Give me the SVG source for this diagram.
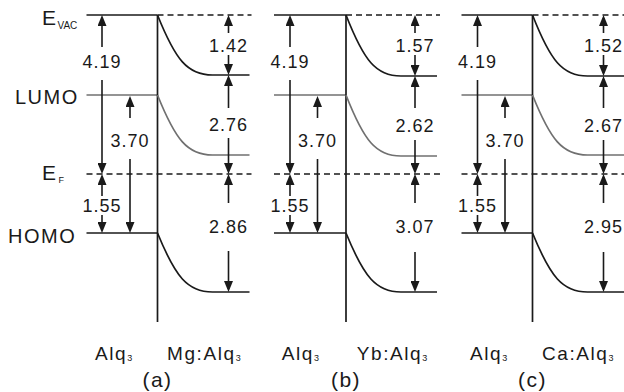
<svg xmlns="http://www.w3.org/2000/svg" width="624" height="392" viewBox="0 0 624 392">
<defs>
<marker id="ah" viewBox="0 0 11 9" refX="8" refY="4.5" markerWidth="11" markerHeight="9" markerUnits="userSpaceOnUse" orient="auto">
<path d="M0,0 L11,4.5 L0,9 z" fill="#1a1a1a"/>
</marker>
<style>
.k{stroke:#1a1a1a;stroke-width:1.7;fill:none}
.g{stroke:#707070;stroke-width:1.7;fill:none}
.d{stroke-dasharray:6 4}
.ar{stroke:#1a1a1a;stroke-width:1.6;fill:none;marker-end:url(#ah)}
text{font-family:"Liberation Sans",Arial,sans-serif;fill:#1a1a1a}
.num{font-size:18px;letter-spacing:1px;text-anchor:middle}
.lvl{font-size:20px;letter-spacing:1.5px}
.mat{font-size:19px;letter-spacing:1.6px}
.cap{font-size:21px;letter-spacing:1.5px;text-anchor:middle}
.sub{font-size:9px;letter-spacing:0}
</style>
</defs>

<g id="level-labels">
<text class="lvl" x="42" y="25" style="font-size:21px">E<tspan class="sub" style="font-size:10px" dy="4">VAC</tspan></text>
<text class="lvl" x="15" y="104">LUMO</text>
<text class="lvl" x="42" y="180" style="font-size:21px">E<tspan class="sub" dx="1" dy="3">F</tspan></text>
<text class="lvl" x="8" y="242.5">HOMO</text>
</g>

<g id="panel-a" transform="translate(157.5,0)">
<g id="levels-a">
<line class="k" x1="-71" y1="15" x2="0" y2="15"/>
<line class="k d" x1="0" y1="15" x2="94" y2="15"/>
<line class="g" x1="-71" y1="95" x2="0" y2="95"/>
<line class="k d" x1="-71" y1="174" x2="94" y2="174"/>
<line class="k" x1="-71" y1="233" x2="0" y2="233"/>
<line class="k" x1="0" y1="15" x2="0" y2="322"/>
<path class="k" d="M0,15 C18,60 30,75 55,75 L92,75"/>
<path class="g" d="M0,95 C18,140 30,155 55,155 L92,155"/>
<path class="k" d="M0,233 C18,277 30,292 55,292 L92,292"/>
</g>
<g id="arrows-a">
<line class="ar" x1="-55.5" y1="47" x2="-55.5" y2="18"/>
<line class="ar" x1="-55.5" y1="80" x2="-55.5" y2="171"/>
<line class="ar" x1="-55.5" y1="196" x2="-55.5" y2="177"/>
<line class="ar" x1="-55.5" y1="215" x2="-55.5" y2="230"/>
<line class="ar" x1="-27.5" y1="118" x2="-27.5" y2="99"/>
<line class="ar" x1="-27.5" y1="159" x2="-27.5" y2="230"/>
<line class="ar" x1="71" y1="33" x2="71" y2="18"/>
<line class="ar" x1="71" y1="55" x2="71" y2="72"/>
<line class="ar" x1="71" y1="108" x2="71" y2="78"/>
<line class="ar" x1="71" y1="138" x2="71" y2="171"/>
<line class="ar" x1="71" y1="203" x2="71" y2="177"/>
<line class="ar" x1="71" y1="251" x2="71" y2="289"/>
</g>
<g id="labels-a">
<text class="num" x="-55.5" y="68">4.19</text>
<text class="num" x="-55.5" y="212">1.55</text>
<text class="num" x="-27.5" y="147">3.70</text>
<text class="num" x="71" y="52">1.42</text>
<text class="num" x="71" y="131">2.76</text>
<text class="num" x="71" y="233">2.86</text>
<text class="mat" x="-62.5" y="360">Alq<tspan class="sub" dy="1">3</tspan></text>
<text class="mat" x="9.5" y="360">Mg:Alq<tspan class="sub" dy="1">3</tspan></text>
<text class="cap" x="0" y="387">(a)</text>
</g>
</g>

<g id="panel-b" transform="translate(346,0)">
<g id="levels-b">
<line class="k" x1="-72" y1="15" x2="0" y2="15"/>
<line class="k d" x1="0" y1="15" x2="94" y2="15"/>
<line class="g" x1="-72" y1="95" x2="0" y2="95"/>
<line class="k d" x1="-72" y1="174" x2="94" y2="174"/>
<line class="k" x1="-72" y1="233" x2="0" y2="233"/>
<line class="k" x1="0" y1="15" x2="0" y2="322"/>
<path class="k" d="M0,15 C18,61 30,76 55,76 L91,76"/>
<path class="g" d="M0,95 C18,141 30,156 55,156 L91,156"/>
<path class="k" d="M0,233 C18,277 30,292 55,292 L91,292"/>
</g>
<g id="arrows-b">
<line class="ar" x1="-56" y1="47" x2="-56" y2="18"/>
<line class="ar" x1="-56" y1="80" x2="-56" y2="171"/>
<line class="ar" x1="-56" y1="196" x2="-56" y2="177"/>
<line class="ar" x1="-56" y1="215" x2="-56" y2="230"/>
<line class="ar" x1="-28.5" y1="118" x2="-28.5" y2="99"/>
<line class="ar" x1="-28.5" y1="159" x2="-28.5" y2="230"/>
<line class="ar" x1="69" y1="33" x2="69" y2="18"/>
<line class="ar" x1="69" y1="55" x2="69" y2="73"/>
<line class="ar" x1="69" y1="108" x2="69" y2="79"/>
<line class="ar" x1="69" y1="140" x2="69" y2="171"/>
<line class="ar" x1="69" y1="203" x2="69" y2="177"/>
<line class="ar" x1="69" y1="252" x2="69" y2="289"/>
</g>
<g id="labels-b">
<text class="num" x="-56" y="68">4.19</text>
<text class="num" x="-56" y="212">1.55</text>
<text class="num" x="-28.5" y="147">3.70</text>
<text class="num" x="69" y="52">1.57</text>
<text class="num" x="69" y="132">2.62</text>
<text class="num" x="69" y="233">3.07</text>
<text class="mat" x="-64.3" y="360">Alq<tspan class="sub" dy="1">3</tspan></text>
<text class="mat" x="10.7" y="360">Yb:Alq<tspan class="sub" dy="1">3</tspan></text>
<text class="cap" x="0" y="387">(b)</text>
</g>
</g>

<g id="panel-c" transform="translate(532.5,0)">
<g id="levels-c">
<line class="k" x1="-71" y1="15" x2="0" y2="15"/>
<line class="k d" x1="0" y1="15" x2="94" y2="15"/>
<line class="g" x1="-71" y1="95" x2="0" y2="95"/>
<line class="k d" x1="-71" y1="174" x2="94" y2="174"/>
<line class="k" x1="-71" y1="233" x2="0" y2="233"/>
<line class="k" x1="0" y1="15" x2="0" y2="322"/>
<path class="k" d="M0,15 C18,61 30,76 55,76 L92,76"/>
<path class="g" d="M0,95 C18,140 30,155 55,155 L92,155"/>
<path class="k" d="M0,233 C18,277 30,292 55,292 L92,292"/>
</g>
<g id="arrows-c">
<line class="ar" x1="-55" y1="47" x2="-55" y2="18"/>
<line class="ar" x1="-55" y1="80" x2="-55" y2="171"/>
<line class="ar" x1="-55" y1="196" x2="-55" y2="177"/>
<line class="ar" x1="-55" y1="215" x2="-55" y2="230"/>
<line class="ar" x1="-27.5" y1="118" x2="-27.5" y2="99"/>
<line class="ar" x1="-27.5" y1="159" x2="-27.5" y2="230"/>
<line class="ar" x1="71" y1="33" x2="71" y2="18"/>
<line class="ar" x1="71" y1="55" x2="71" y2="73"/>
<line class="ar" x1="71" y1="108" x2="71" y2="79"/>
<line class="ar" x1="71" y1="140" x2="71" y2="171"/>
<line class="ar" x1="71" y1="203" x2="71" y2="177"/>
<line class="ar" x1="71" y1="252" x2="71" y2="289"/>
</g>
<g id="labels-c">
<text class="num" x="-55" y="68">4.19</text>
<text class="num" x="-55" y="212">1.55</text>
<text class="num" x="-27.5" y="147">3.70</text>
<text class="num" x="71" y="52">1.52</text>
<text class="num" x="71" y="132">2.67</text>
<text class="num" x="71" y="233">2.95</text>
<text class="mat" x="-62.5" y="360">Alq<tspan class="sub" dy="1">3</tspan></text>
<text class="mat" x="9.4" y="360">Ca:Alq<tspan class="sub" dy="1">3</tspan></text>
<text class="cap" x="0" y="387">(c)</text>
</g>
</g>
</svg>
